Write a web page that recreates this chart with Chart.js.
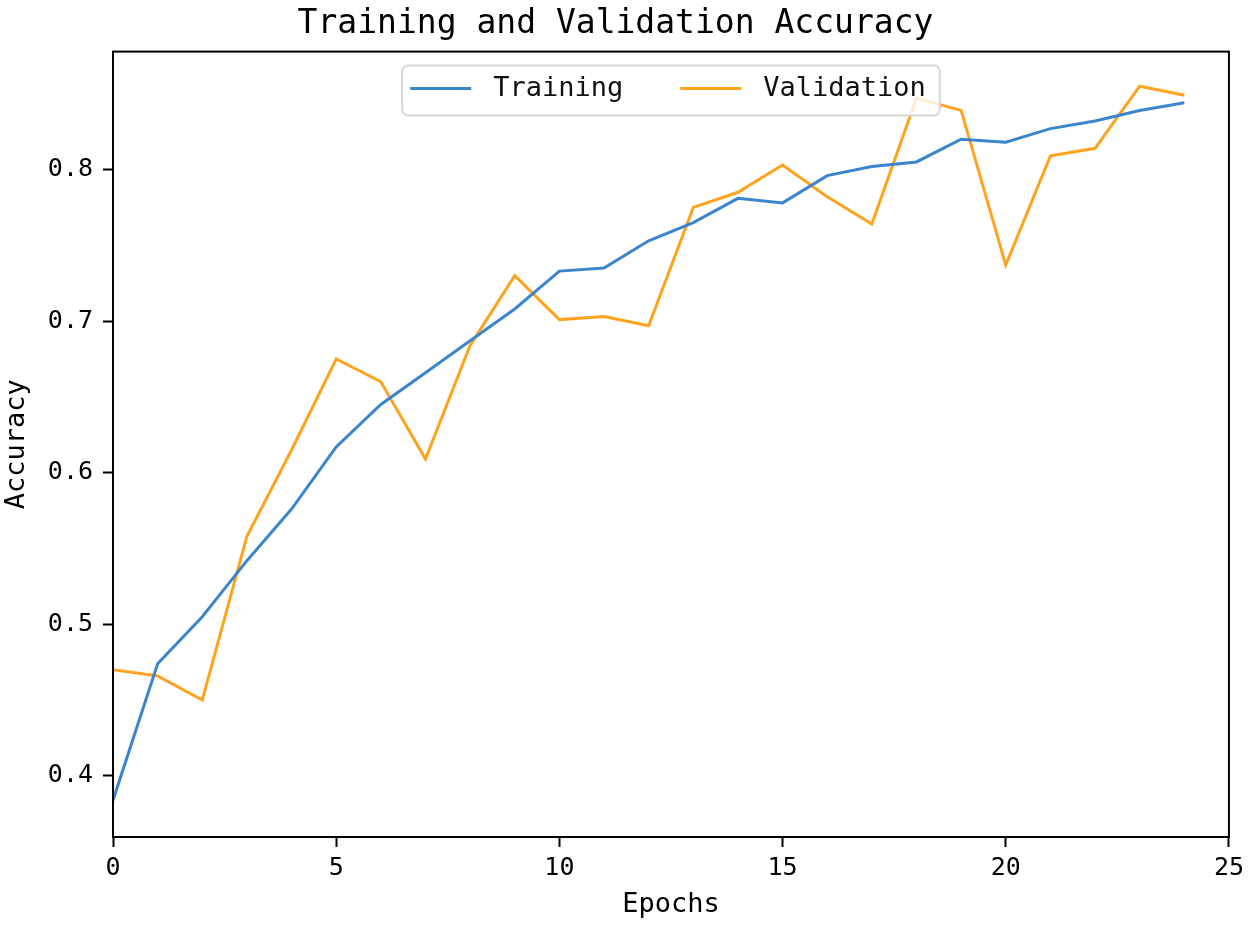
<!DOCTYPE html>
<html>
<head>
<meta charset="utf-8">
<title>Training and Validation Accuracy</title>
<script src="https://cdn.jsdelivr.net/npm/chart.js@4"></script>
<style>
  html, body { margin: 0; padding: 0; background: #fff; }
  #wrap { width: 1250px; height: 926px; position: relative; }
</style>
</head>
<body>
<div id="wrap"><canvas id="accChart"></canvas></div>
<script>
const epochs = [0, 1, 2, 3, 4, 5, 6, 7, 8, 9, 10, 11, 12, 13, 14, 15, 16, 17, 18, 19, 20, 21, 22, 23, 24];

const trainingAcc = [0.384, 0.474, 0.505, 0.542, 0.576, 0.617, 0.645, 0.666, 0.687, 0.708,
  0.733, 0.735, 0.753, 0.765, 0.781, 0.778, 0.796, 0.802, 0.805, 0.820,
  0.818, 0.827, 0.832, 0.839, 0.844];

const validationAcc = [0.470, 0.466, 0.450, 0.558, 0.615, 0.675, 0.660, 0.609, 0.684, 0.730,
  0.701, 0.703, 0.697, 0.775, 0.785, 0.803, 0.782, 0.764, 0.847, 0.839,
  0.737, 0.809, 0.814, 0.855, 0.849];

const xTicks = [0, 5, 10, 15, 20, 25];
const yTicks = [0.4, 0.5, 0.6, 0.7, 0.8];

const FONT = "'DejaVu Sans Mono', 'Liberation Mono', monospace";
const BLUE = '#3a85cc';
const ORANGE = '#ffa31f';

function toPoints(values) {
  return epochs.map((e, i) => ({ x: e, y: values[i] }));
}

// black frame round the plot area, like matplotlib spines
const framePlugin = {
  id: 'frame',
  afterDraw(chart) {
    const { ctx, chartArea: a } = chart;
    ctx.save();
    ctx.strokeStyle = '#000';
    ctx.lineWidth = 2;
    ctx.strokeRect(a.left, a.top, a.right - a.left, a.bottom - a.top);
    ctx.restore();
  }
};

// legend box at upper centre inside the plot
const legendBoxPlugin = {
  id: 'legendBox',
  afterDatasetsDraw(chart) {
    const { ctx, chartArea: a } = chart;
    const handle = 61, gap = 22, colGap = 57, padL = 8, padR = 14;
    ctx.save();
    ctx.font = '27px ' + FONT;
    const items = chart.data.datasets.map(ds => ({ label: ds.label, color: ds.borderColor, w: ctx.measureText(ds.label).width }));
    let total = padL + padR;
    items.forEach((it, i) => { total += handle + gap + it.w + (i < items.length - 1 ? colGap : 0); });
    const boxW = total, boxH = 50;
    const x0 = (a.left + a.right) / 2 - boxW / 2;
    const y0 = a.top + 14;

    ctx.fillStyle = 'rgba(255,255,255,0.8)';
    ctx.strokeStyle = '#d6d6d6';
    ctx.lineWidth = 2;
    ctx.beginPath();
    ctx.roundRect(x0, y0, boxW, boxH, 6);
    ctx.fill();
    ctx.stroke();

    let x = x0 + padL;
    const cy = y0 + boxH / 2 - 2;
    items.forEach(it => {
      ctx.strokeStyle = it.color;
      ctx.lineWidth = 3;
      ctx.beginPath();
      ctx.moveTo(x, cy);
      ctx.lineTo(x + handle, cy);
      ctx.stroke();
      x += handle + gap;
      ctx.fillStyle = '#111';
      ctx.textBaseline = 'middle';
      ctx.textAlign = 'left';
      ctx.fillText(it.label, x, cy);
      x += it.w + colGap;
    });
    ctx.restore();
  }
};

function createAccuracyChart() {
  const ctx = document.getElementById('accChart').getContext('2d');
  new Chart(ctx, {
    type: 'line',
    data: {
      datasets: [
        { label: 'Training', data: toPoints(trainingAcc), borderColor: BLUE, borderWidth: 3, pointRadius: 0, tension: 0, fill: false },
        { label: 'Validation', data: toPoints(validationAcc), borderColor: ORANGE, borderWidth: 3, pointRadius: 0, tension: 0, fill: false }
      ]
    },
    options: {
      responsive: true,
      maintainAspectRatio: false,
      animation: false,
      layout: { padding: { left: 0, right: 19, top: 0, bottom: 0 } },
      plugins: {
        legend: { display: false },
        tooltip: { enabled: false },
        title: {
          display: true,
          text: 'Training and Validation Accuracy',
          color: '#000',
          font: { family: FONT, size: 33, weight: 'normal' },
          padding: { top: 5, bottom: 7 }
        }
      },
      scales: {
        x: {
          type: 'linear',
          min: 0,
          max: 25,
          afterFit(scale) { scale.height = 89; },
          afterBuildTicks(scale) { scale.ticks = xTicks.map(v => ({ value: v })); },
          border: { display: false },
          grid: { drawOnChartArea: false, drawTicks: true, tickLength: 10, tickWidth: 2, tickColor: '#000' },
          ticks: { color: '#000', padding: 6, maxRotation: 0, font: { family: FONT, size: 25 }, callback: v => String(v) },
          title: { display: true, text: 'Epochs', color: '#000', font: { family: FONT, size: 27 }, padding: { top: 0, bottom: 5 } }
        },
        y: {
          type: 'linear',
          min: 0.3597,
          max: 0.8778,
          afterFit(scale) { scale.width = 113; },
          afterBuildTicks(scale) { scale.ticks = yTicks.map(v => ({ value: v })); },
          border: { display: false },
          grid: { drawOnChartArea: false, drawTicks: true, tickLength: 10, tickWidth: 2, tickColor: '#000' },
          ticks: { color: '#000', padding: 10, font: { family: FONT, size: 25 }, callback: v => Number(v).toFixed(1) },
          title: { display: true, text: 'Accuracy', color: '#000', font: { family: FONT, size: 27 }, padding: { top: 1, bottom: 0 } }
        }
      }
    },
    plugins: [framePlugin, legendBoxPlugin]
  });
}

window.addEventListener('DOMContentLoaded', createAccuracyChart);
</script>
</body>
</html>
